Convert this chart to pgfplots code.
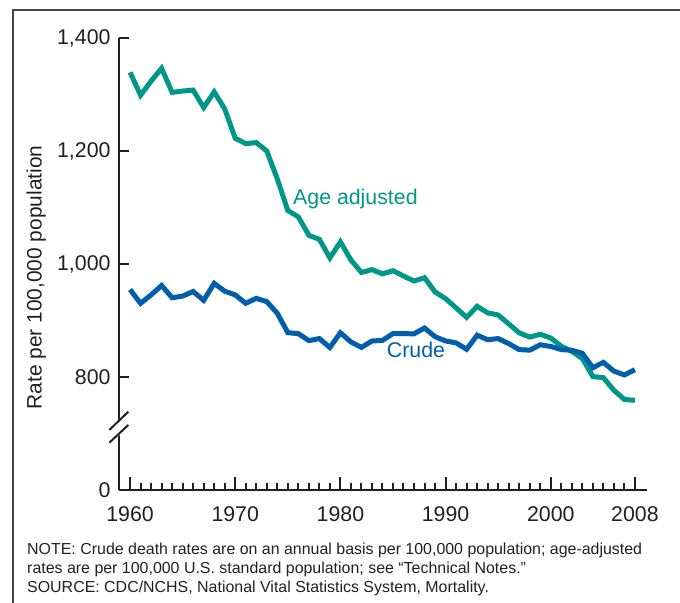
\documentclass[border=0pt]{standalone}
\usepackage{pgfplots}
\pgfplotsset{compat=1.18}
\usepackage{fontspec}
\setmainfont{Liberation Sans}
\definecolor{ageteal}{RGB}{0,150,136}
\definecolor{crudeblue}{RGB}{0,94,170}
\definecolor{framegray}{RGB}{70,70,70}
\definecolor{axisblack}{RGB}{35,31,32}

\pgfplotstableread{
year rate
1960 1339.2
1961 1298.8
1962 1323.6
1963 1346.3
1964 1303.8
1965 1306.1
1966 1307.8
1967 1276.9
1968 1304.5
1969 1274.5
1970 1222.6
1971 1213.1
1972 1214.8
1973 1199.9
1974 1150.5
1975 1094.7
1976 1083.3
1977 1050.8
1978 1043.6
1979 1010.8
1980 1039.1
1981 1007.1
1982 985.0
1983 990.0
1984 982.5
1985 988.1
1986 978.6
1987 970.0
1988 975.7
1989 950.5
1990 938.7
1991 922.3
1992 905.6
1993 925.1
1994 913.5
1995 909.8
1996 894.1
1997 878.1
1998 870.6
1999 875.6
2000 869.0
2001 854.5
2002 845.3
2003 832.7
2004 800.8
2005 798.8
2006 776.5
2007 760.2
2008 758.7
}\ageadj

\pgfplotstableread{
year rate
1960 954.7
1961 930.3
1962 945.2
1963 961.9
1964 940.2
1965 943.2
1966 951.3
1967 935.7
1968 965.7
1969 951.9
1970 945.3
1971 930.4
1972 939.2
1973 933.4
1974 912.7
1975 878.5
1976 876.7
1977 864.4
1978 868.0
1979 852.2
1980 878.3
1981 862.0
1982 852.4
1983 863.7
1984 864.8
1985 876.9
1986 876.7
1987 876.4
1988 886.7
1989 871.3
1990 863.8
1991 860.3
1992 849.0
1993 874.0
1994 866.0
1995 868.0
1996 859.0
1997 848.5
1998 847.5
1999 857.0
2000 854.0
2001 848.5
2002 847.3
2003 841.9
2004 816.5
2005 825.9
2006 810.4
2007 803.6
2008 812.9
}\crude

\begin{document}
\begin{tikzpicture}[x=1bp,y=1bp]
\useasboundingbox (0,0) rectangle (680,603);
\draw[framegray, line width=1.5bp] (13,-5) -- (13,593) -- (690,593);

% y axis + data
\begin{axis}[
  at={(119bp,113bp)}, anchor=south west,
  scale only axis, width=528bp, height=452bp,
  xmin=1958.95, xmax=2009.15, ymin=600, ymax=1400,
  axis x line=none, axis y line=left,
  axis line style={-, line width=2.6bp, axisblack},
  ytick={600,800,1000,1200,1400},
  yticklabels={0,800,{1,000},{1,200},{1,400}},
  tick align=inside, major tick length=10bp,
  ytick style={line width=2.2bp, axisblack},
  yticklabel style={font=\fontsize{21.4}{25}\selectfont, text=axisblack, xshift=-5bp},
  clip=false,
]
\addplot[ageteal, line width=5bp] table[x=year,y=rate] {\ageadj};
\addplot[crudeblue, line width=5bp] table[x=year,y=rate] {\crude};
\end{axis}

% x axis
\begin{axis}[
  at={(119bp,113bp)}, anchor=south west,
  scale only axis, width=528bp, height=452bp,
  xmin=1958.95, xmax=2009.15, ymin=600, ymax=1400,
  axis y line=none, axis x line=bottom,
  axis line style={-, line width=2.6bp, axisblack},
  xtick={1960,1970,1980,1990,2000,2008},
  xticklabels={1960,1970,1980,1990,2000,2008},
  minor xtick={1961,1962,...,2007},
  tick align=inside, major tick length=13bp, minor tick length=7bp,
  xtick style={line width=2bp, axisblack},
  xticklabel style={font=\fontsize{21.4}{25}\selectfont, text=axisblack, yshift=-13bp},
]
\end{axis}

% axis break
\fill[white] (108,172) -- (130,193) -- (130,177) -- (108,158) -- cycle;
\draw[axisblack, line width=2bp] (109.3,173) -- (128.3,191.3);
\draw[axisblack, line width=2bp] (109.3,160.3) -- (128.3,178);

% y label
\node[rotate=90, anchor=base, inner sep=0, font=\fontsize{21}{25}\selectfont, text=axisblack] at (41.5,325.5) {Rate per 100,000 population};

% series labels
\node[anchor=base west, inner sep=0, font=\fontsize{21.4}{25}\selectfont, text=ageteal] at (293,398) {Age adjusted};
\node[anchor=base west, inner sep=0, font=\fontsize{21.4}{25}\selectfont, text=crudeblue] at (386.7,245) {Crude};

% notes
\begin{scope}[every node/.style={anchor=base west, inner sep=0, font=\fontsize{16}{19}\selectfont, text=axisblack}]
\node at (27,48) {NOTE: Crude death rates are on an annual basis per 100,000 population; age-adjusted};
\node at (27,29) {rates are per 100,000 U.S. standard population; see \textquotedblleft Technical Notes.\textquotedblright};
\node at (27,10) {SOURCE: CDC/NCHS, National Vital Statistics System, Mortality.};
\end{scope}
\end{tikzpicture}
\end{document}
